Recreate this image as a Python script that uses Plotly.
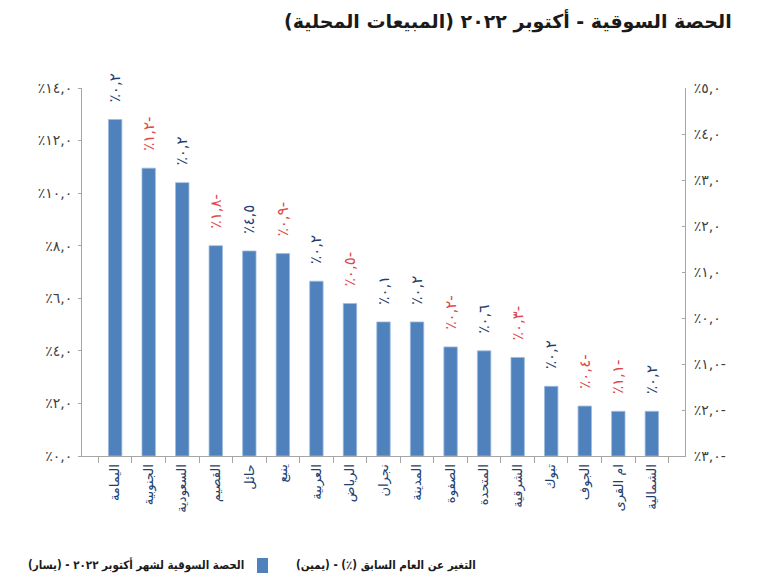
import plotly.graph_objects as go

# ---------------- data ----------------
companies = ["اليمامة", "الجنوبية", "السعودية", "القصيم", "حائل", "ينبع", "العربية",
             "الرياض", "نجران", "المدينة", "الصفوة", "المتحدة", "الشرقية", "تبوك",
             "الجوف", "ام القرى", "الشمالية"]
market_share = [12.8, 10.95, 10.4, 8.0, 7.8, 7.7, 6.65, 5.8, 5.1, 5.1, 4.15, 4.0, 3.75,
                2.65, 1.9, 1.7, 1.7]
yoy_change = [0.2, -1.2, 0.2, -1.8, 4.5, -0.9, 0.2, -0.5, 0.1, 0.2, -0.2, 0.6, -0.3,
              0.2, -0.4, -1.1, 0.2]
left_ticks = [0, 2, 4, 6, 8, 10, 12, 14]
right_ticks = [-3, -2, -1, 0, 1, 2, 3, 4, 5]

title_text = "الحصة السوقية - أكتوبر ٢٠٢٢ (المبيعات المحلية)"
legend_bar = "الحصة السوقية لشهر أكتوبر ٢٠٢٢ - (يسار)"
legend_line = "التغير عن العام السابق (٪) - (يمين)"

# ---------------- helpers ----------------
AR_DIGITS = str.maketrans("0123456789.", "٠١٢٣٤٥٦٧٨٩,")
RLM = "\u200f"


def ar_pct(v):
    s = "٪" + f"{abs(v):.1f}".translate(AR_DIGITS)
    return s + ("-" if v < 0 else "")


FONT = "DejaVu Sans, sans-serif"
FONT_C = "DejaVu Sans Condensed, DejaVu Sans, sans-serif"
W, H = 780, 588
L, R, T, B = 82, 95, 88, 132
PW, PH = W - L - R, H - T - B


def px_x(x):
    return (x - L) / PW


def px_y(y):
    return (H - B - y) / PH


BLUE = "#4F81BD"
AXIS = "#a6a6a6"
POS_C = "#1F3F6E"
NEG_C = "#E04848"

fig = go.Figure()

fig.add_trace(go.Bar(
    x=companies, y=market_share, yaxis="y",
    marker=dict(color=BLUE, line=dict(color="#9dbbe0", width=0.8)),
    text=["\u00a0\u00a0\u00a0" + ar_pct(v) for v in yoy_change],
    textposition="outside", textangle=-90, constraintext="none",
    textfont=dict(family=FONT, size=15,
                  color=[NEG_C if v < 0 else POS_C for v in yoy_change]),
    cliponaxis=False, showlegend=False, hoverinfo="x+y",
))

# the YoY series lives on the right axis (not drawn as marks in the reference)
fig.add_trace(go.Scatter(
    x=companies, y=yoy_change, yaxis="y2", mode="markers",
    marker=dict(opacity=0, size=1), showlegend=False, hoverinfo="x+y",
))

tickfont = dict(family=FONT, size=14, color="#404040")

fig.update_layout(
    width=W, height=H,
    margin=dict(l=L, r=R, t=T, b=B),
    paper_bgcolor="white", plot_bgcolor="white",
    bargap=0.6,
    font=dict(family=FONT),
    xaxis=dict(
        type="category", showline=True, linecolor=AXIS, linewidth=1,
        ticks="outside", tickson="boundaries", ticklen=6, tickcolor=AXIS,
        tickangle=-90, tickfont=dict(family=FONT, size=13, color="#1F3F6E"),
        ticklabelstandoff=2, showgrid=False, zeroline=False,
    ),
    yaxis=dict(
        range=[0, 14], tickvals=left_ticks, ticktext=[ar_pct(v) for v in left_ticks],
        showline=True, linecolor=AXIS, linewidth=1, ticks="outside", ticklen=3,
        tickcolor=AXIS, tickfont=tickfont, ticklabelstandoff=3,
        showgrid=False, zeroline=False,
    ),
    yaxis2=dict(
        range=[-3, 5], tickvals=right_ticks, ticktext=[ar_pct(v) for v in right_ticks],
        overlaying="y", side="right", showline=True, linecolor=AXIS, linewidth=1,
        ticks="inside", ticklen=3, tickcolor=AXIS, tickfont=tickfont,
        ticklabelstandoff=5, showgrid=False, zeroline=False,
    ),
)

# title
fig.add_annotation(
    text="<b>" + RLM + title_text + RLM + "</b>", xref="paper", yref="paper",
    x=px_x(734), y=px_y(21), xanchor="right", yanchor="middle", showarrow=False,
    font=dict(family=FONT, size=19, color="#1a1a1a"),
)

# legend
fig.add_annotation(
    text="<b>" + RLM + legend_line + RLM + "</b>", xref="paper", yref="paper",
    x=px_x(478), y=px_y(565), xanchor="right", yanchor="middle", showarrow=False,
    font=dict(family=FONT_C, size=11.5, color="#1a1a1a"),
)
fig.add_annotation(
    text="<b>" + RLM + legend_bar + RLM + "</b>", xref="paper", yref="paper",
    x=px_x(246), y=px_y(565), xanchor="right", yanchor="middle", showarrow=False,
    font=dict(family=FONT_C, size=11.5, color="#1a1a1a"),
)
fig.add_shape(
    type="rect", xref="paper", yref="paper",
    x0=px_x(257), x1=px_x(268), y0=px_y(573), y1=px_y(558),
    fillcolor=BLUE, line=dict(width=0),
)

fig.write_html("out.html")
